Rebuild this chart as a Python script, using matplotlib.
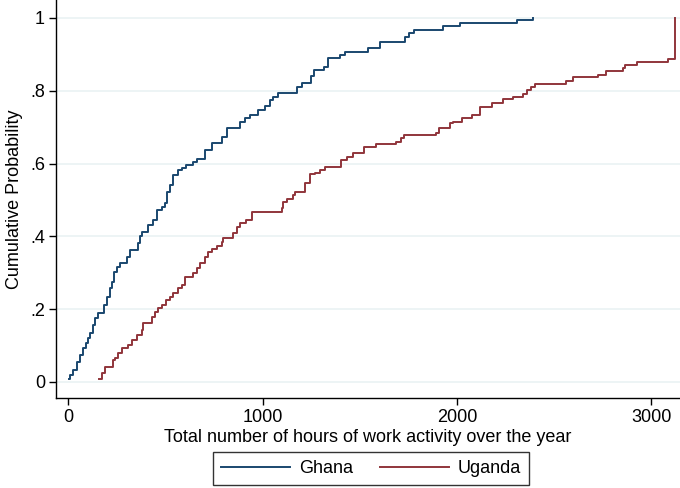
import matplotlib
matplotlib.use("Agg")
import matplotlib.pyplot as plt

# 累积分布的阶梯点（小时数, 累积概率）
ghana_hours = [3, 8, 23, 44, 59, 75, 90, 100, 111, 126, 136, 152, 183, 198, 214,
               224, 234, 250, 265, 301, 317, 358, 368, 378, 409, 435, 455, 481,
               497, 507, 522, 538, 564, 584, 605, 641, 661, 703, 739, 790, 816,
               883, 908, 934, 975, 1011, 1037, 1052, 1078, 1176, 1202, 1248,
               1263, 1315, 1336, 1397, 1423, 1541, 1603, 1732, 1752, 1778, 1927,
               2015, 2308, 2391]
ghana_prob = [0.008, 0.019, 0.033, 0.055, 0.074, 0.093, 0.107, 0.121, 0.135,
              0.157, 0.176, 0.190, 0.212, 0.234, 0.258, 0.275, 0.302, 0.316,
              0.327, 0.343, 0.363, 0.382, 0.401, 0.412, 0.431, 0.445, 0.473,
              0.481, 0.492, 0.522, 0.541, 0.569, 0.582, 0.588, 0.596, 0.604,
              0.613, 0.637, 0.657, 0.673, 0.698, 0.714, 0.725, 0.734, 0.747,
              0.758, 0.775, 0.783, 0.794, 0.810, 0.821, 0.841, 0.857, 0.865,
              0.890, 0.898, 0.907, 0.918, 0.934, 0.948, 0.959, 0.967, 0.978,
              0.986, 0.995, 1.0]

uganda_hours = [157, 172, 188, 229, 239, 255, 275, 306, 327, 353, 378, 383, 430,
                445, 461, 481, 502, 522, 538, 564, 584, 600, 641, 661, 677, 703,
                718, 739, 764, 790, 795, 847, 867, 883, 914, 944, 1099, 1104,
                1124, 1156, 1166, 1217, 1243, 1269, 1294, 1320, 1402, 1433, 1464,
                1521, 1583, 1685, 1711, 1727, 1891, 1907, 1963, 1979, 2025, 2076,
                2118, 2180, 2236, 2288, 2339, 2360, 2380, 2401, 2561, 2596, 2725,
                2766, 2854, 2864, 2926, 3086, 3121]
uganda_prob = [0.008, 0.025, 0.041, 0.060, 0.066, 0.080, 0.093, 0.102, 0.115,
               0.129, 0.143, 0.162, 0.179, 0.192, 0.203, 0.212, 0.225, 0.234,
               0.245, 0.258, 0.266, 0.288, 0.299, 0.313, 0.327, 0.343, 0.357,
               0.365, 0.374, 0.385, 0.396, 0.409, 0.426, 0.437, 0.445, 0.467,
               0.478, 0.495, 0.503, 0.514, 0.522, 0.547, 0.571, 0.574, 0.582,
               0.591, 0.610, 0.618, 0.629, 0.646, 0.654, 0.659, 0.670, 0.679,
               0.684, 0.698, 0.712, 0.714, 0.725, 0.734, 0.755, 0.766, 0.777,
               0.783, 0.791, 0.802, 0.810, 0.819, 0.827, 0.838, 0.843, 0.854,
               0.863, 0.871, 0.879, 0.887, 1.0]

x_ticks = [0, 1000, 2000, 3000]
y_ticks = [0, 0.2, 0.4, 0.6, 0.8, 1]
y_labels = ['0', '.2', '.4', '.6', '.8', '1']

plt.rcParams['font.family'] = ['Liberation Sans', 'DejaVu Sans']

fig = plt.figure(figsize=(6.8, 4.88), dpi=100)
ax = fig.add_axes([0.0824, 0.1844, 0.9176, 0.8156])

ax.plot(ghana_hours, ghana_prob, drawstyle='steps-post', color='#1a476f',
        lw=1.4, label='Ghana')
ax.plot(uganda_hours, uganda_prob, drawstyle='steps-post', color='#90353b',
        lw=1.4, label='Uganda')

ax.set_xlim(-64, 3147)
ax.set_ylim(-0.044, 1.049)
ax.set_xticks(x_ticks)
ax.set_yticks(y_ticks)
ax.set_yticklabels(y_labels)
ax.yaxis.grid(True, color='#eaf2f3', lw=1.2)
ax.set_axisbelow(True)
ax.tick_params(labelsize=13, length=5, width=1, color='black', pad=3)

for s in ['top', 'right']:
    ax.spines[s].set_visible(False)
ax.spines['left'].set_linewidth(1)
ax.spines['bottom'].set_linewidth(1)

ax.set_xlabel('Total number of hours of work activity over the year',
              fontsize=13, labelpad=2)
ax.set_ylabel('Cumulative Probability', fontsize=13, labelpad=5)

leg = fig.legend(loc='center', bbox_to_anchor=(0.546, 0.04), ncol=2,
                 fontsize=13, frameon=True, fancybox=False, edgecolor='black',
                 handlelength=3.8, handletextpad=0.5, columnspacing=1.5,
                 borderpad=0.45, borderaxespad=0)
leg.get_frame().set_linewidth(1)

fig.savefig('out.png', dpi=100)
